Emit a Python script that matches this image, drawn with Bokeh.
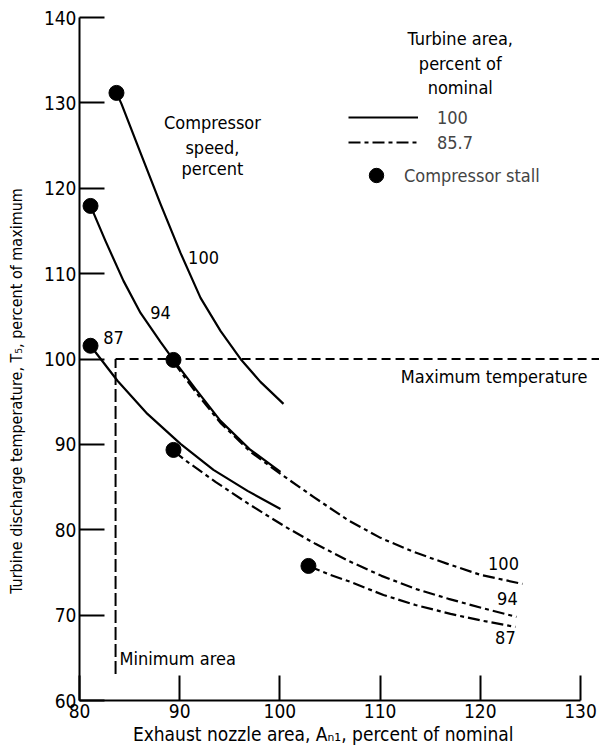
from bokeh.plotting import figure
from bokeh.models import Label, Legend, LegendItem, Range1d, FixedTicker
from bokeh.embed import file_html
from bokeh.resources import INLINE
from bokeh.core.properties import value

FONT = "DejaVu Sans Condensed"
NBSP = "\u00a0"

# ---------------- data ----------------
x_ticks = [80, 90, 100, 110, 120, 130]
y_ticks = [60, 70, 80, 90, 100, 110, 120, 130, 140]

# Turbine area 100 percent of nominal (solid); compressor speed 100 / 94 / 87 percent
s100_x = [83.69, 84.19, 86.09, 88.08, 90.08, 92.08, 94.07, 96.07, 98.06, 100.36]
s100_y = [131.17, 129.88, 124.14, 118.17, 112.43, 107.16, 103.29, 100.01, 97.32, 94.74]
s94_x = [81.10, 82.59, 84.39, 86.09, 88.08, 89.38, 91.58, 94.07, 97.07, 100.06]
s94_y = [117.93, 113.83, 109.15, 105.40, 102.00, 99.89, 96.50, 92.75, 89.35, 86.77]
s87_x = [81.10, 83.79, 86.78, 90.08, 93.37, 96.77, 100.06]
s87_y = [101.55, 97.45, 93.57, 90.06, 87.01, 84.55, 82.44]

# Turbine area 85.7 percent of nominal (dash-dot)
d100_x = [89.38, 91.58, 94.07, 97.07, 100.06, 103.35, 106.75, 110.04, 113.33, 116.73, 120.02, 124.21]
d100_y = [99.66, 96.15, 92.52, 89.12, 86.55, 83.85, 81.16, 79.05, 77.41, 76.00, 74.72, 73.66]
d94_x = [89.38, 90.78, 93.57, 96.87, 100.56, 103.55, 106.85, 110.14, 113.53, 116.83, 120.12, 123.61]
d94_y = [89.24, 87.95, 85.61, 83.03, 80.34, 78.35, 76.36, 74.60, 73.08, 71.91, 70.85, 69.80]
d87_x = [102.85, 105.05, 107.05, 110.34, 113.53, 117.03, 120.32, 123.51]
d87_y = [75.76, 74.71, 73.89, 72.36, 71.19, 70.14, 69.32, 68.62]

# Compressor stall points
stall_x = [83.69, 81.10, 81.10, 89.38, 89.38, 102.85]
stall_y = [131.17, 117.93, 101.55, 99.89, 89.35, 75.76]

# Limits
min_area = 83.6
min_area_bottom = 63.1
max_temp = 100.0

# Curve labels (compressor speed, percent)
lab_text = ["100", "94", "87", "100", "94", "87"]
lab_x = [92.38, 88.08, 83.39, 122.32, 122.71, 122.51]
lab_y = [111.84, 105.40, 102.47, 76.00, 71.91, 67.33]

X0, X1 = 80, 131.9
Y0, Y1 = 60, 140

p = figure(width=599, height=751, output_backend="svg", toolbar_location=None,
           x_range=Range1d(X0, X1), y_range=Range1d(Y0, Y1),
           min_border_left=79, min_border_right=0, min_border_top=17,
           min_border_bottom=51)
p.outline_line_color = None
p.background_fill_color = "white"
p.border_fill_color = "white"
p.grid.visible = False

for ax in (p.xaxis[0], p.yaxis[0]):
    ax.major_tick_in = 25
    ax.major_tick_out = 0
    ax.minor_tick_in = 0
    ax.minor_tick_out = 0
    ax.axis_line_width = 2
    ax.major_tick_line_width = 2
    ax.axis_line_color = "black"
    ax.major_tick_line_color = "black"
    ax.major_label_text_font = FONT
    ax.major_label_text_font_size = "19px"
    ax.major_label_text_color = "black"
    ax.axis_label_text_font = FONT
    ax.axis_label_text_font_style = "normal"
    ax.axis_label_text_color = "black"

p.xaxis.ticker = FixedTicker(ticks=x_ticks)
p.yaxis.ticker = FixedTicker(ticks=y_ticks)
p.xaxis.bounds = (80, 130)
p.xaxis.major_label_standoff = 3
p.yaxis.major_label_standoff = 3
# trailing no-break spaces only nudge the centred titles to the reference position
p.xaxis.axis_label = "Exhaust nozzle area, A\u2099\u2081, percent of nominal" + NBSP * 6
p.xaxis.axis_label_text_font_size = "19px"
p.xaxis.axis_label_standoff = 2
p.yaxis.axis_label = "Turbine discharge temperature, T\u2085, percent of maximum" + NBSP * 14
p.yaxis.axis_label_text_font_size = "16px"
p.yaxis.axis_label_standoff = 15

# limit lines
p.line([min_area, min_area], [min_area_bottom, max_temp],
       line_color="black", line_width=2, line_dash="13 4")
p.line([min_area, X1], [max_temp, max_temp],
       line_color="black", line_width=2, line_dash="9 5")

lw = 2.2
common = dict(line_color="black", line_width=lw, line_join="round", line_cap="butt")
r_s100 = p.line(s100_x, s100_y, **common)
p.line(s94_x, s94_y, **common)
p.line(s87_x, s87_y, **common)
dd = "12 4 4 4"
r_d100 = p.line(d100_x, d100_y, line_dash=dd, **common)
p.line(d94_x, d94_y, line_dash=dd, **common)
p.line(d87_x, d87_y, line_dash=dd, **common)

r_stall = p.scatter(stall_x, stall_y, size=15, marker="circle",
                    fill_color="black", line_color="black")

p.text(lab_x, lab_y, text=lab_text, text_font=value(FONT),
       text_font_size="18px", text_align="center", text_baseline="middle",
       text_color="black")


def label(x, y, txt, align="center", size="18px"):
    p.add_layout(Label(x=x, y=y, text=txt, text_font=FONT, text_font_size=size,
                       text_align=align, text_baseline="middle", text_color="black"))


label(93.27, 127.66, "Compressor")
label(93.27, 124.73, "speed,")
label(93.27, 122.27, "percent")
label(118.0, 137.50, "Turbine area,")
label(118.0, 134.57, "percent of")
label(118.0, 131.76, "nominal")
label(130.7, 97.9, "Maximum temperature", align="right")
label(84.0, 64.9, "Minimum area", align="left")

leg1 = Legend(items=[LegendItem(label="100", renderers=[r_s100]),
                     LegendItem(label="85.7", renderers=[r_d100])],
              location=(269, 547), orientation="vertical",
              glyph_width=70, glyph_height=22, label_height=22, spacing=3,
              label_standoff=19, padding=0, margin=0,
              border_line_color=None, background_fill_alpha=0,
              label_text_font=FONT, label_text_font_size="18px")
leg2 = Legend(items=[LegendItem(label="Compressor stall", renderers=[r_stall])],
              location=(279, 507), orientation="vertical",
              glyph_width=36, glyph_height=36, label_height=36,
              label_standoff=10, padding=0, margin=0,
              border_line_color=None, background_fill_alpha=0,
              label_text_font=FONT, label_text_font_size="18px")
p.add_layout(leg1)
p.add_layout(leg2)

open("out.html", "w").write(file_html(p, INLINE))
